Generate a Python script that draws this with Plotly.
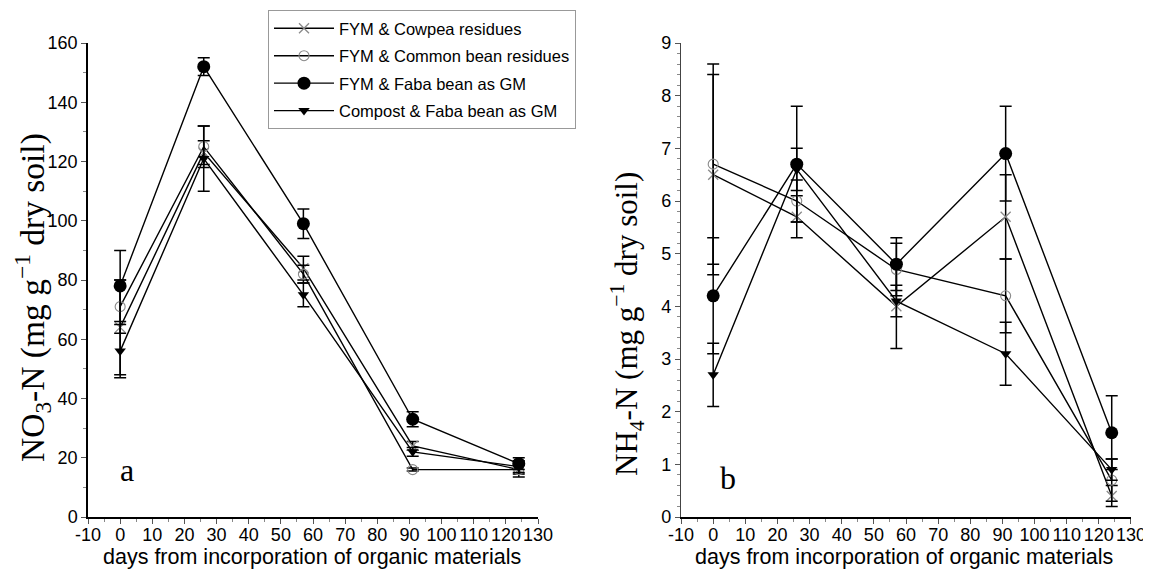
import plotly.graph_objects as go

days = [0, 26, 57, 91, 124]
series_names = ["FYM & Cowpea residues", "FYM & Common bean residues",
                "FYM & Faba bean as GM", "Compost & Faba bean as GM"]
x_tickvals = [-10, 0, 10, 20, 30, 40, 50, 60, 70, 80, 90, 100, 110, 120, 130]
x_ticktext = ["-10", "0", "10", "20", "30", "40", "50", "60", "70", "80", "90",
              "100", "110", "120", "130"]

# NO3-N (panel a)
no3_cowpea = [64, 123, 84, 24, 16]
no3_cowpea_err = [16, 4, 4, 1.5, 2.5]
no3_common = [71, 125, 82, 16, 16]
no3_common_err = [9, 7, 3, 0.5, 1.5]
no3_faba = [78, 152, 99, 33, 18]
no3_faba_err = [12, 3, 5, 2.5, 2]
no3_compost = [56, 121, 75, 22, 17]
no3_compost_err = [9, 11, 4, 1.5, 2]

# NH4-N (panel b)
nh4_cowpea = [6.5, 5.7, 4.0, 5.7, 0.4]
nh4_cowpea_err = [1.9, 0.4, 0.8, 0.8, 0.2]
nh4_common = [6.7, 6.0, 4.7, 4.2, 0.7]
nh4_common_err = [1.9, 0.4, 0.5, 0.7, 0.4]
nh4_faba = [4.2, 6.7, 4.8, 6.9, 1.6]
nh4_faba_err = [1.1, 1.1, 0.5, 0.9, 0.7]
nh4_compost = [2.7, 6.6, 4.1, 3.1, 0.9]
nh4_compost_err = [0.6, 0.4, 0.3, 0.6, 0.2]

styles = [
    dict(symbol="x-thin-open", size=10, color="#8a8a8a", line=dict(color="#8a8a8a", width=1.3)),
    dict(symbol="circle-open", size=10, color="#8a8a8a", line=dict(color="#8a8a8a", width=1.1)),
    dict(symbol="circle", size=13, color="black", line=dict(color="black", width=0)),
    dict(symbol="triangle-down", size=10, color="black", line=dict(color="black", width=0)),
]

fig = go.Figure()
panel_a = [(no3_cowpea, no3_cowpea_err), (no3_common, no3_common_err),
           (no3_faba, no3_faba_err), (no3_compost, no3_compost_err)]
panel_b = [(nh4_cowpea, nh4_cowpea_err), (nh4_common, nh4_common_err),
           (nh4_faba, nh4_faba_err), (nh4_compost, nh4_compost_err)]

for i, (vals, err) in enumerate(panel_a):
    fig.add_trace(go.Scatter(
        x=days, y=vals, mode="lines+markers", name=series_names[i],
        legendgroup="g%d" % i,
        line=dict(color="black", width=1.4), marker=styles[i],
        error_y=dict(type="data", array=err, visible=True, color="black", thickness=1.5, width=6),
        xaxis="x", yaxis="y", showlegend=True))
for i, (vals, err) in enumerate(panel_b):
    fig.add_trace(go.Scatter(
        x=days, y=vals, mode="lines+markers", name=series_names[i],
        legendgroup="g%d" % i,
        line=dict(color="black", width=1.4), marker=styles[i],
        error_y=dict(type="data", array=err, visible=True, color="black", thickness=1.5, width=6),
        xaxis="x2", yaxis="y2", showlegend=False))

tickfont = dict(family="Liberation Sans, Arial", size=18, color="black")
common_x = dict(range=[-10, 130], tickmode="array", tickvals=x_tickvals, ticktext=x_ticktext,
                showline=True, linecolor="black", linewidth=1.5,
                ticks="outside", ticklen=5, tickcolor="#555555", tickwidth=1,
                minor=dict(dtick=5, tick0=0, ticklen=3, ticks="outside", tickcolor="#888888"),
                showgrid=False, zeroline=False, tickfont=tickfont, ticklabelstandoff=-4)

serif = "Liberation Serif, Times New Roman"
sans = "Liberation Sans, Arial"

# page body has an 8px margin, so the figure is 8px smaller than the window
def px_x(p):
    return (p - 88) / 1043.0

def px_y(p):
    return (517 - p) / 474.0

fig.update_layout(
    width=1143, height=564,
    margin=dict(l=80, r=20, t=35, b=55, autoexpand=False),
    paper_bgcolor="white", plot_bgcolor="white",
    xaxis=dict(domain=[0, 0.4315], anchor="y", **common_x),
    xaxis2=dict(domain=[0.5686, 1.0], anchor="y2", **common_x),
    yaxis=dict(range=[0, 160], dtick=20, showline=True, linecolor="black", linewidth=1.5,
               ticks="outside", ticklen=5, tickcolor="#555555",
               minor=dict(dtick=10, ticklen=3, ticks="outside", tickcolor="#888888"),
               showgrid=False, zeroline=False, tickfont=tickfont, anchor="x"),
    yaxis2=dict(range=[0, 9], dtick=1, showline=True, linecolor="#444444", linewidth=1.2,
                ticks="outside", ticklen=5, tickcolor="#555555",
                minor=dict(dtick=0.2, ticklen=3, ticks="outside", tickcolor="#888888"),
                showgrid=False, zeroline=False, tickfont=tickfont, anchor="x2"),
    legend=dict(x=px_x(268), y=px_y(10), xanchor="left", yanchor="top",
                bgcolor="white", bordercolor="#999999", borderwidth=1,
                font=dict(family=sans, size=16.5, color="black"),
                itemwidth=60, tracegroupgap=3),
    annotations=[
        dict(text="a", x=2, y=16, xref="x", yref="y", showarrow=False,
             font=dict(family=serif, size=32, color="black")),
        dict(text="b", x=4.5, y=0.75, xref="x2", yref="y2", showarrow=False,
             font=dict(family=serif, size=32, color="black")),
        dict(text="NO<sub>3</sub>-N (mg g<sup>−1</sup> dry soil)", textangle=-90,
             x=px_x(32), y=px_y(298), xref="paper", yref="paper", showarrow=False,
             xanchor="center", yanchor="middle",
             font=dict(family=serif, size=33.5, color="black")),
        dict(text="NH<sub>4</sub>-N (mg g<sup>−1</sup> dry soil)", textangle=-90,
             x=px_x(627), y=px_y(324), xref="paper", yref="paper", showarrow=False,
             xanchor="center", yanchor="middle",
             font=dict(family=serif, size=31, color="black")),
        dict(text="days from incorporation of organic materials",
             x=px_x(312), y=px_y(557), xref="paper", yref="paper", showarrow=False,
             xanchor="center", yanchor="middle",
             font=dict(family=sans, size=21.5, color="black")),
        dict(text="days from incorporation of organic materials",
             x=px_x(904), y=px_y(557), xref="paper", yref="paper", showarrow=False,
             xanchor="center", yanchor="middle",
             font=dict(family=sans, size=21.5, color="black")),
    ],
)

fig.write_html("out.html")
